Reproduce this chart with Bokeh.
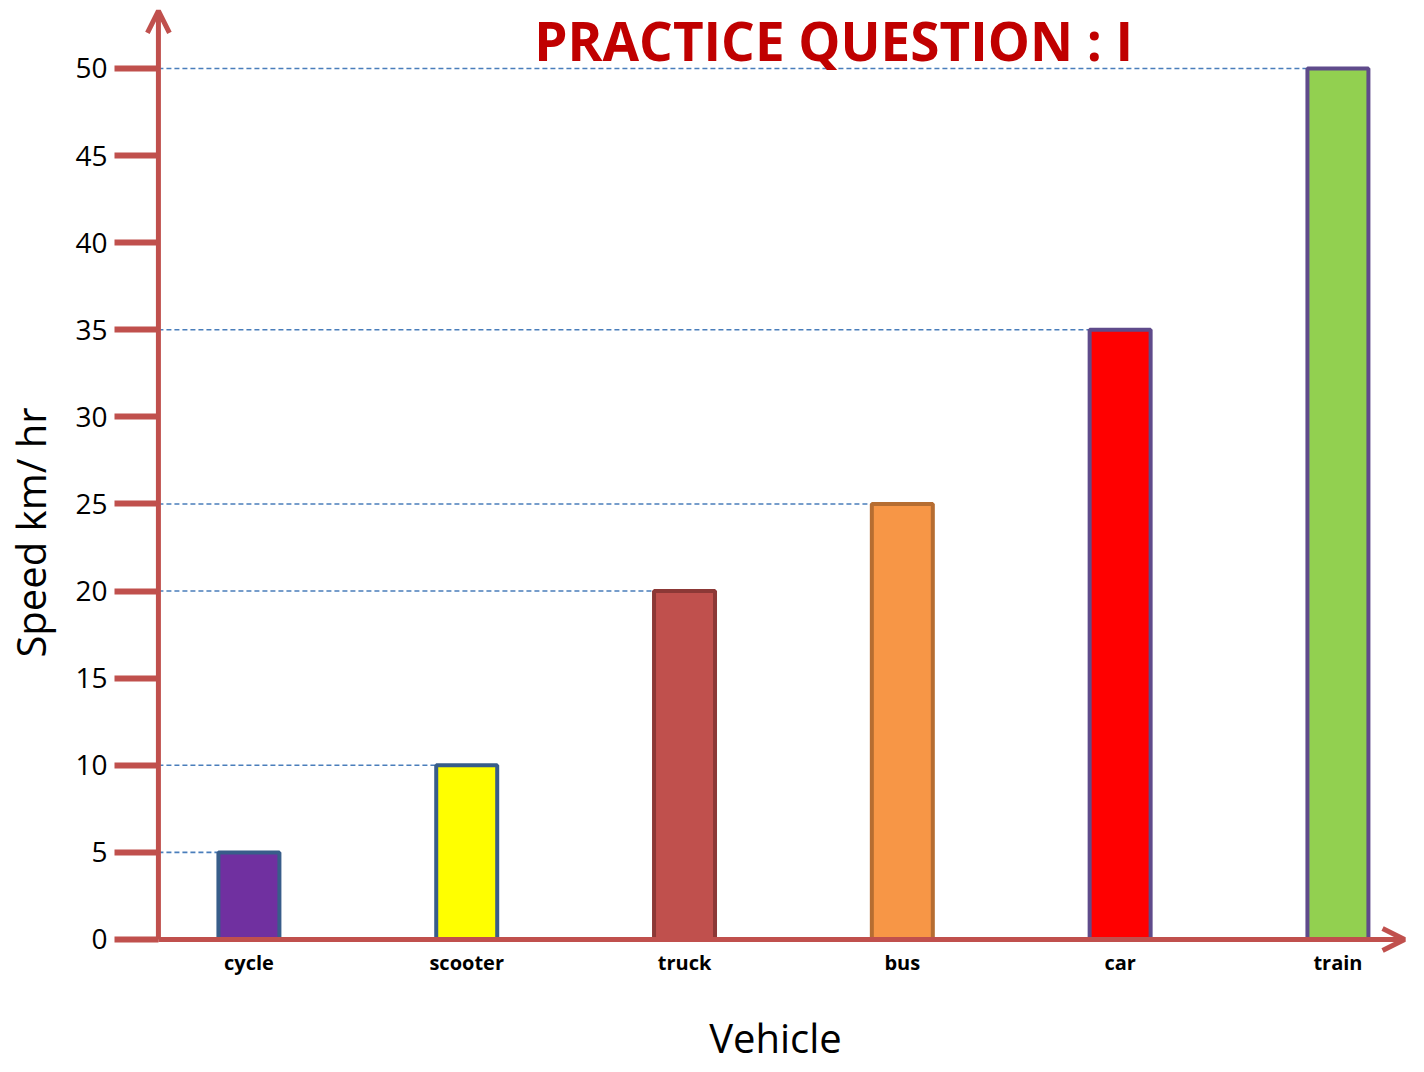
from bokeh.plotting import figure
from bokeh.models import (ColumnDataSource, Range1d, FixedTicker, Arrow, OpenHead, Label)
from bokeh.embed import file_html
from bokeh.resources import INLINE

# ---- data ----
vehicles = ["cycle", "scooter", "truck", "bus", "car", "train"]
speeds = [5, 10, 20, 25, 35, 50]
fill_colors = ["#7030A0", "#FFFF00", "#C0504D", "#F79646", "#FF0000", "#92D050"]
line_colors = ["#385D8A", "#385D8A", "#8C3836", "#B66D31", "#5F4B8B", "#5F4B8B"]
y_ticks = [0, 5, 10, 15, 20, 25, 30, 35, 40, 45, 50]
title_text = "PRACTICE QUESTION : I"
x_label = "Vehicle"
y_label = "Speed km/ hr"

# ---- layout ----
AX = "#C0504D"
x_lo, x_hi = 0.5114, 6.324      # frame extent (x)
x_axis = 0.5845                  # where the vertical axis line sits
x_tip = 6.306
y_lo, y_hi = -7.176, 53.9        # frame extent (y)
y_tip = 53.3
positions = [i + 1 for i in range(len(vehicles))]
bar_w = 0.28

src = ColumnDataSource(dict(x=positions, top=speeds, fill=fill_colors, line=line_colors,
                            x0=[x_axis] * len(speeds)))

p = figure(width=1408, height=1064, output_backend="svg", toolbar_location=None,
           x_range=Range1d(x_lo, x_hi), y_range=Range1d(y_lo, y_hi),
           min_border_left=135, min_border_right=0, min_border_top=0, min_border_bottom=0)
p.outline_line_color = None
p.xgrid.visible = False
p.ygrid.visible = False
p.background_fill_color = "white"

# dashed guide lines
p.segment(x0="x0", y0="top", x1="x", y1="top", source=src,
          line_color="#4A7EBB", line_width=1.6, line_dash="5 3")

# axis lines with arrow heads
p.add_layout(Arrow(end=OpenHead(size=22, line_color=AX, line_width=5),
                   x_start=x_axis, y_start=0, x_end=x_axis, y_end=y_tip,
                   line_color=AX, line_width=5))
p.add_layout(Arrow(end=OpenHead(size=22, line_color=AX, line_width=5),
                   x_start=x_axis, y_start=0, x_end=x_tip, y_end=0,
                   line_color=AX, line_width=5))

# bars
p.vbar(x="x", top="top", bottom=0, width=bar_w, source=src,
       fill_color="fill", line_color="line", line_width=4)

# y axis styling
p.yaxis.ticker = FixedTicker(ticks=y_ticks)
p.yaxis.axis_line_color = None
p.yaxis.major_tick_line_color = AX
p.yaxis.major_tick_line_width = 6
p.yaxis.major_tick_out = 28
p.yaxis.major_tick_in = 16
p.yaxis.minor_tick_line_color = None
p.yaxis.major_label_standoff = 7
p.yaxis.major_label_text_font = "Open Sans"
p.yaxis.major_label_text_font_size = "28px"
p.yaxis.major_label_text_color = "black"
p.yaxis.axis_label = y_label
p.yaxis.axis_label_text_font = "Open Sans"
p.yaxis.axis_label_text_font_size = "40px"
p.yaxis.axis_label_text_font_style = "normal"
p.yaxis.axis_label_text_color = "black"
p.yaxis.axis_label_standoff = 14

# x axis, pinned at y = 0
p.xaxis.fixed_location = 0
p.xaxis.ticker = FixedTicker(ticks=positions)
p.xaxis.major_label_overrides = {pos: name for pos, name in zip(positions, vehicles)}
p.xaxis.axis_line_color = None
p.xaxis.major_tick_line_color = None
p.xaxis.major_tick_out = 0
p.xaxis.major_tick_in = 0
p.xaxis.minor_tick_line_color = None
p.xaxis.major_label_standoff = 10
p.xaxis.major_label_text_font = "Open Sans"
p.xaxis.major_label_text_font_size = "20px"
p.xaxis.major_label_text_font_style = "bold"
p.xaxis.major_label_text_color = "black"
p.xaxis.axis_label = x_label
p.xaxis.axis_label_text_font = "Open Sans"
p.xaxis.axis_label_text_font_size = "40px"
p.xaxis.axis_label_text_font_style = "normal"
p.xaxis.axis_label_text_color = "black"
p.xaxis.axis_label_standoff = 30

# title
p.add_layout(Label(x=3.685, y=51.6, text=title_text, text_align="center",
                   text_baseline="alphabetic", text_font="Open Sans",
                   text_font_style="bold", text_font_size="53px", text_color="#C00000"))

open("out.html", "w").write(file_html(p, INLINE))
